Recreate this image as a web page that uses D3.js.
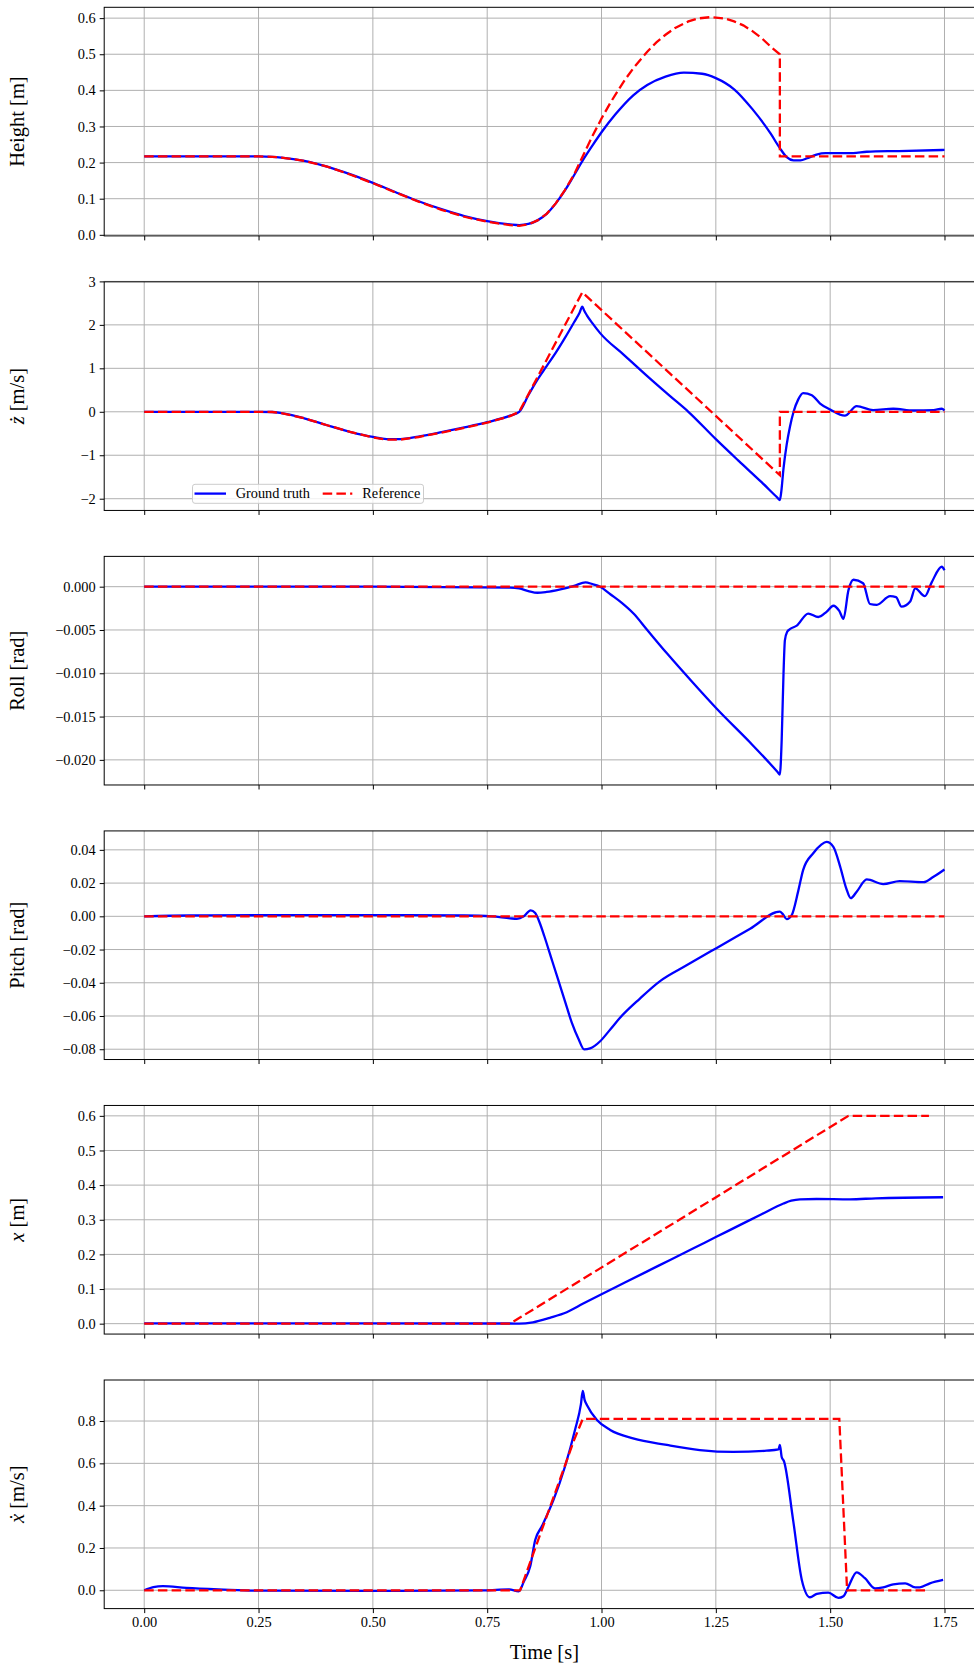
<!DOCTYPE html>
<html><head><meta charset="utf-8">
<script src="https://cdn.jsdelivr.net/npm/d3@7"></script>
<style>body{margin:0;background:#fff;} svg{display:block;}</style>
</head><body><svg id="chart" width="974" height="1663"></svg>
<script>
// ---------- data ----------
const xTickValues = [0, 0.25, 0.5, 0.75, 1.0, 1.25, 1.5, 1.75];
const xTickLabels = ["0.00", "0.25", "0.50", "0.75", "1.00", "1.25", "1.50", "1.75"];

// Height [m]
const tHeightGT = [0, 0.1, 0.2, 0.25, 0.28, 0.3, 0.35, 0.4, 0.45, 0.5, 0.55, 0.6, 0.65, 0.7, 0.75, 0.8, 0.82, 0.84, 0.86, 0.88, 0.9, 0.92, 0.94, 0.96, 0.98, 1.0, 1.03, 1.07, 1.1, 1.14, 1.18, 1.22, 1.25, 1.29, 1.33, 1.37, 1.39, 1.405, 1.42, 1.435, 1.45, 1.47, 1.49, 1.52, 1.55, 1.58, 1.65, 1.75];
const heightGT = [0.217, 0.217, 0.217, 0.217, 0.216, 0.214, 0.205, 0.189, 0.168, 0.144, 0.118, 0.093, 0.071, 0.052, 0.038, 0.029, 0.027, 0.03, 0.04, 0.058, 0.087, 0.123, 0.165, 0.208, 0.247, 0.284, 0.333, 0.387, 0.415, 0.438, 0.449, 0.446, 0.434, 0.403, 0.348, 0.28, 0.24, 0.215, 0.206, 0.206, 0.212, 0.222, 0.226, 0.226, 0.226, 0.23, 0.232, 0.235];
const tHeightRef = [0, 0.25, 0.28, 0.3, 0.35, 0.4, 0.45, 0.5, 0.55, 0.6, 0.65, 0.7, 0.75, 0.8, 0.82, 0.84, 0.86, 0.88, 0.9, 0.92, 0.94, 0.958, 0.98, 1.0, 1.02, 1.05, 1.07, 1.1, 1.12, 1.14, 1.16, 1.19, 1.21, 1.24, 1.27, 1.29, 1.31, 1.33, 1.35, 1.37, 1.39, 1.39, 1.75];
const heightRef = [0.217, 0.217, 0.216, 0.214, 0.205, 0.189, 0.167, 0.143, 0.117, 0.092, 0.069, 0.05, 0.036, 0.027, 0.025, 0.029, 0.04, 0.058, 0.087, 0.124, 0.167, 0.215, 0.273, 0.322, 0.367, 0.427, 0.462, 0.507, 0.533, 0.554, 0.572, 0.591, 0.599, 0.603, 0.599, 0.591, 0.58, 0.564, 0.545, 0.521, 0.5, 0.217, 0.217];

// z-dot [m/s]
const tZdotGT = [0, 0.25, 0.28, 0.3, 0.35, 0.4, 0.45, 0.5, 0.53, 0.56, 0.6, 0.65, 0.7, 0.75, 0.8, 0.82, 0.84, 0.86, 0.88, 0.9, 0.92, 0.94, 0.952, 0.958, 0.962, 0.968, 0.98, 0.997, 1.05, 1.1, 1.15, 1.19, 1.25, 1.3, 1.35, 1.385, 1.39, 1.393, 1.398, 1.405, 1.412, 1.42, 1.43, 1.441, 1.46, 1.478, 1.5, 1.532, 1.558, 1.594, 1.638, 1.682, 1.726, 1.744, 1.75];
const zdotGT = [0, 0, -0.005, -0.03, -0.15, -0.31, -0.46, -0.58, -0.63, -0.63, -0.57, -0.47, -0.36, -0.24, -0.09, 0, 0.38, 0.74, 1.05, 1.36, 1.7, 2.06, 2.28, 2.42, 2.33, 2.22, 2.04, 1.81, 1.3, 0.82, 0.36, 0, -0.63, -1.13, -1.62, -1.98, -2.03, -1.85, -1.3, -0.75, -0.35, 0.0, 0.28, 0.43, 0.38, 0.19, 0.05, -0.09, 0.13, 0.04, 0.07, 0.03, 0.04, 0.07, 0.03];
const tZdotRef = [0, 0.25, 0.28, 0.3, 0.35, 0.4, 0.45, 0.5, 0.53, 0.56, 0.6, 0.65, 0.7, 0.75, 0.8, 0.82, 0.958, 1.39, 1.39, 1.75];
const zdotRef = [0, 0, -0.005, -0.03, -0.15, -0.31, -0.46, -0.59, -0.64, -0.64, -0.58, -0.48, -0.37, -0.25, -0.1, 0, 2.75, -1.46, 0, 0];

// Roll [rad]
const tRollGT = [0, 0.5, 0.8, 0.82, 0.84, 0.86, 0.88, 0.91, 0.94, 0.965, 0.98, 0.997, 1.02, 1.045, 1.07, 1.1, 1.143, 1.2, 1.252, 1.325, 1.385, 1.39, 1.394, 1.398, 1.401, 1.406, 1.412, 1.427, 1.452, 1.474, 1.492, 1.507, 1.52, 1.529, 1.54, 1.551, 1.572, 1.587, 1.602, 1.631, 1.644, 1.656, 1.675, 1.686, 1.707, 1.722, 1.744, 1.75];
const rollGT = [0, 0, -0.0001, -0.0002, -0.0005, -0.0007, -0.0006, -0.0003, 0.0001, 0.0005, 0.0003, 0.0, -0.0009, -0.0019, -0.0031, -0.005, -0.0077, -0.0111, -0.0141, -0.018, -0.0214, -0.0217, -0.0177, -0.01, -0.0062, -0.0052, -0.0049, -0.0045, -0.0031, -0.0035, -0.0029, -0.0022, -0.0028, -0.0037, -0.0004, 0.0008, 0.0004, -0.002, -0.0021, -0.0011, -0.0012, -0.0023, -0.0017, -0.0002, -0.0011, 0.0005, 0.0023, 0.0019];
const tRollRef = [0, 1.75];
const rollRef = [0, 0];

// Pitch [rad]
const tPitchGT = [0, 0.1, 0.3, 0.5, 0.7, 0.76, 0.8, 0.815, 0.83, 0.845, 0.855, 0.865, 0.875, 0.89, 0.905, 0.92, 0.935, 0.95, 0.962, 0.975, 0.985, 0.997, 1.02, 1.04, 1.084, 1.128, 1.186, 1.252, 1.325, 1.39, 1.396, 1.405, 1.416, 1.43, 1.441, 1.463, 1.48, 1.492, 1.507, 1.522, 1.535, 1.545, 1.558, 1.58, 1.616, 1.652, 1.704, 1.726, 1.75];
const pitchGT = [0, 0.0005, 0.0007, 0.0007, 0.0005, 0.0, -0.0012, -0.0015, 0.0, 0.0036, 0.002, -0.004, -0.012, -0.025, -0.038, -0.051, -0.064, -0.074, -0.0801, -0.0795, -0.078, -0.0752, -0.0678, -0.0612, -0.0495, -0.039, -0.0295, -0.019, -0.0075, 0.0028, 0.0015, -0.0017, 0.0008, 0.015, 0.028, 0.038, 0.043, 0.0448, 0.0418, 0.0298, 0.017, 0.0109, 0.0148, 0.0222, 0.0194, 0.0212, 0.0206, 0.0238, 0.0282];
const tPitchRef = [0, 1.75];
const pitchRef = [0, 0];

// x [m]
const tPosGT = [0, 0.5, 0.8, 0.82, 0.85, 0.887, 0.924, 0.96, 1.0, 1.05, 1.1, 1.15, 1.2, 1.25, 1.3, 1.35, 1.398, 1.415, 1.434, 1.47, 1.543, 1.6, 1.747];
const posGT = [0.001, 0.001, 0.0005, 0.0, 0.004, 0.017, 0.033, 0.058, 0.085, 0.118, 0.151, 0.184, 0.217, 0.25, 0.283, 0.316, 0.347, 0.355, 0.359, 0.36, 0.359, 0.362, 0.365];
const tPosRef = [0, 0.8, 1.54, 1.716];
const posRef = [0, 0, 0.6, 0.6];

// x-dot [m/s]
const tXdotGT = [0, 0.02, 0.041, 0.092, 0.174, 0.255, 0.5, 0.744, 0.798, 0.819, 0.83, 0.844, 0.855, 0.869, 0.895, 0.92, 0.942, 0.955, 0.959, 0.963, 0.968, 0.99, 1.019, 1.069, 1.143, 1.215, 1.288, 1.361, 1.387, 1.39, 1.394, 1.399, 1.419, 1.438, 1.456, 1.471, 1.496, 1.518, 1.529, 1.54, 1.558, 1.576, 1.598, 1.616, 1.638, 1.664, 1.686, 1.696, 1.718, 1.747];
const xdotGT = [0, 0.015, 0.02, 0.011, 0.003, -0.002, -0.003, 0.0, 0.004, -0.005, 0.04, 0.112, 0.238, 0.3, 0.427, 0.584, 0.758, 0.88, 0.943, 0.9, 0.876, 0.805, 0.758, 0.718, 0.687, 0.663, 0.654, 0.66, 0.666, 0.687, 0.63, 0.61, 0.332, 0.049, -0.033, -0.017, -0.011, -0.036, -0.028, 0.017, 0.085, 0.057, 0.009, 0.014, 0.028, 0.033, 0.014, 0.014, 0.033, 0.049];
const tXdotRef = [0, 0.822, 0.94, 0.959, 1.52, 1.537, 1.716];
const xdotRef = [0, 0, 0.71, 0.81, 0.81, 0, 0];

// axis ticks
const heightTicks = [0, 0.1, 0.2, 0.3, 0.4, 0.5, 0.6];
const zdotTicks = [-2, -1, 0, 1, 2, 3];
const rollTicks = [0, -0.005, -0.01, -0.015, -0.02];
const pitchTicks = [0.04, 0.02, 0, -0.02, -0.04, -0.06, -0.08];
const posTicks = [0, 0.1, 0.2, 0.3, 0.4, 0.5, 0.6];
const xdotTicks = [0, 0.2, 0.4, 0.6, 0.8];

const legendLabels = ["Ground truth", "Reference"];

// ---------- layout ----------
const FONT = '"Liberation Serif", "Times New Roman", Times, serif';
const left = 104.2, right = 984.5;
const top0 = 7.3, pitch = 274.54, ph = 228.6;
const gtColor = "#0000ff", refColor = "#ff0000";

const panels = [
  {label: [["Height [m]", false]], dom: [-0.003, 0.63], ticks: heightTicks, fmt: ".1f", gt: [tHeightGT, heightGT], ref: [tHeightRef, heightRef]},
  {label: [["ż", true], [" [m/s]", false]], dom: [-2.27, 2.99], ticks: zdotTicks, fmt: "d", gt: [tZdotGT, zdotGT], ref: [tZdotRef, zdotRef], legend: true},
  {label: [["Roll [rad]", false]], dom: [-0.0229, 0.0035], ticks: rollTicks, fmt: ".3f", gt: [tRollGT, rollGT], ref: [tRollRef, rollRef]},
  {label: [["Pitch [rad]", false]], dom: [-0.0862, 0.0514], ticks: pitchTicks, fmt: ".2f", gt: [tPitchGT, pitchGT], ref: [tPitchRef, pitchRef]},
  {label: [["x", true], [" [m]", false]], dom: [-0.03, 0.63], ticks: posTicks, fmt: ".1f", gt: [tPosGT, posGT], ref: [tPosRef, posRef]},
  {label: [["ẋ", true], [" [m/s]", false]], dom: [-0.0866, 0.994], ticks: xdotTicks, fmt: ".1f", gt: [tXdotGT, xdotGT], ref: [tXdotRef, xdotRef]}
];

const svg = d3.select("#chart");
svg.append("rect").attr("width", 974).attr("height", 1663).attr("fill", "#fff");

const x = d3.scaleLinear().domain([-0.0875, 1.8375]).range([left, right]);

panels.forEach((p, i) => {
  const top = top0 + i * pitch;
  const bottom = top + ph;
  const y = d3.scaleLinear().domain(p.dom).range([bottom, top]);
  const g = svg.append("g");
  const clipId = "clip" + i;
  svg.append("clipPath").attr("id", clipId).append("rect")
    .attr("x", left).attr("y", top).attr("width", right - left).attr("height", ph);

  // grid
  const grid = g.append("g").attr("stroke", "#b0b0b0").attr("stroke-width", 1);
  xTickValues.forEach(t => grid.append("line").attr("x1", x(t)).attr("x2", x(t)).attr("y1", top).attr("y2", bottom));
  p.ticks.forEach(v => grid.append("line").attr("x1", left).attr("x2", right).attr("y1", y(v)).attr("y2", y(v)));

  // lines
  const gtData = p.gt[0].map((t, k) => [t, p.gt[1][k]]);
  const refData = p.ref[0].map((t, k) => [t, p.ref[1][k]]);
  const lineSmooth = d3.line().x(d => x(d[0])).y(d => y(d[1])).curve(d3.curveMonotoneX);
  const lineLin = d3.line().x(d => x(d[0])).y(d => y(d[1])).curve(d3.curveLinear);
  const lines = g.append("g").attr("clip-path", `url(#${clipId})`);
  lines.append("path").attr("d", lineSmooth(gtData)).attr("fill", "none")
    .attr("stroke", gtColor).attr("stroke-width", 2.3).attr("stroke-linejoin", "round");
  lines.append("path").attr("d", lineLin(refData)).attr("fill", "none")
    .attr("stroke", refColor).attr("stroke-width", 2.3).attr("stroke-dasharray", "9.5,4.2");

  // y axis
  const ya = d3.axisLeft(y).tickValues(p.ticks).tickFormat(d3.format(p.fmt)).tickSize(4.5).tickPadding(4);
  const yg = g.append("g").attr("transform", `translate(${left},0)`).call(ya);
  yg.select(".domain").remove();
  yg.selectAll("line").attr("stroke", "#000").attr("stroke-width", 1);
  yg.selectAll("text").attr("font-family", FONT).attr("font-size", 14.4).attr("fill", "#000");

  // x axis
  const xa = d3.axisBottom(x).tickValues(xTickValues).tickSize(4.5).tickPadding(3.5)
    .tickFormat((d, k) => i === panels.length - 1 ? xTickLabels[k] : "");
  const xg = g.append("g").attr("transform", `translate(0,${bottom})`).call(xa);
  xg.select(".domain").remove();
  xg.selectAll("line").attr("stroke", "#000").attr("stroke-width", 1);
  xg.selectAll("text").attr("font-family", FONT).attr("font-size", 14.4).attr("fill", "#000");

  // frame
  g.append("rect").attr("x", left).attr("y", top).attr("width", right - left).attr("height", ph)
    .attr("fill", "none").attr("stroke", "#000").attr("stroke-width", 1);

  // y label
  const lt = g.append("text").attr("font-family", FONT).attr("font-size", 20.5).attr("fill", "#000")
    .attr("text-anchor", "middle")
    .attr("transform", `translate(24.3,${(top + bottom) / 2}) rotate(-90)`);
  p.label.forEach(([s, it]) => lt.append("tspan").attr("font-style", it ? "italic" : "normal").text(s));

  // legend
  if (p.legend) {
    const lg = g.append("g");
    lg.append("rect").attr("x", 192.5).attr("y", 484.3).attr("width", 231).attr("height", 19)
      .attr("rx", 2.5).attr("fill", "#fff").attr("fill-opacity", 0.8).attr("stroke", "#cccccc").attr("stroke-width", 1);
    const ly = 493.6;
    lg.append("line").attr("x1", 194.5).attr("x2", 226).attr("y1", ly).attr("y2", ly)
      .attr("stroke", gtColor).attr("stroke-width", 2.3);
    lg.append("text").attr("x", 235.7).attr("y", ly).attr("dy", "0.33em").attr("font-family", FONT)
      .attr("font-size", 14.3).text(legendLabels[0]);
    lg.append("line").attr("x1", 322.7).attr("x2", 352.3).attr("y1", ly).attr("y2", ly)
      .attr("stroke", refColor).attr("stroke-width", 2.3).attr("stroke-dasharray", "9.5,4.2");
    lg.append("text").attr("x", 362.3).attr("y", ly).attr("dy", "0.33em").attr("font-family", FONT)
      .attr("font-size", 14.3).text(legendLabels[1]);
  }
});

svg.append("text").attr("x", (left + right) / 2).attr("y", 1658.5).attr("text-anchor", "middle")
  .attr("font-family", FONT).attr("font-size", 20.5).attr("fill", "#000").text("Time [s]");
</script>
</body></html>
